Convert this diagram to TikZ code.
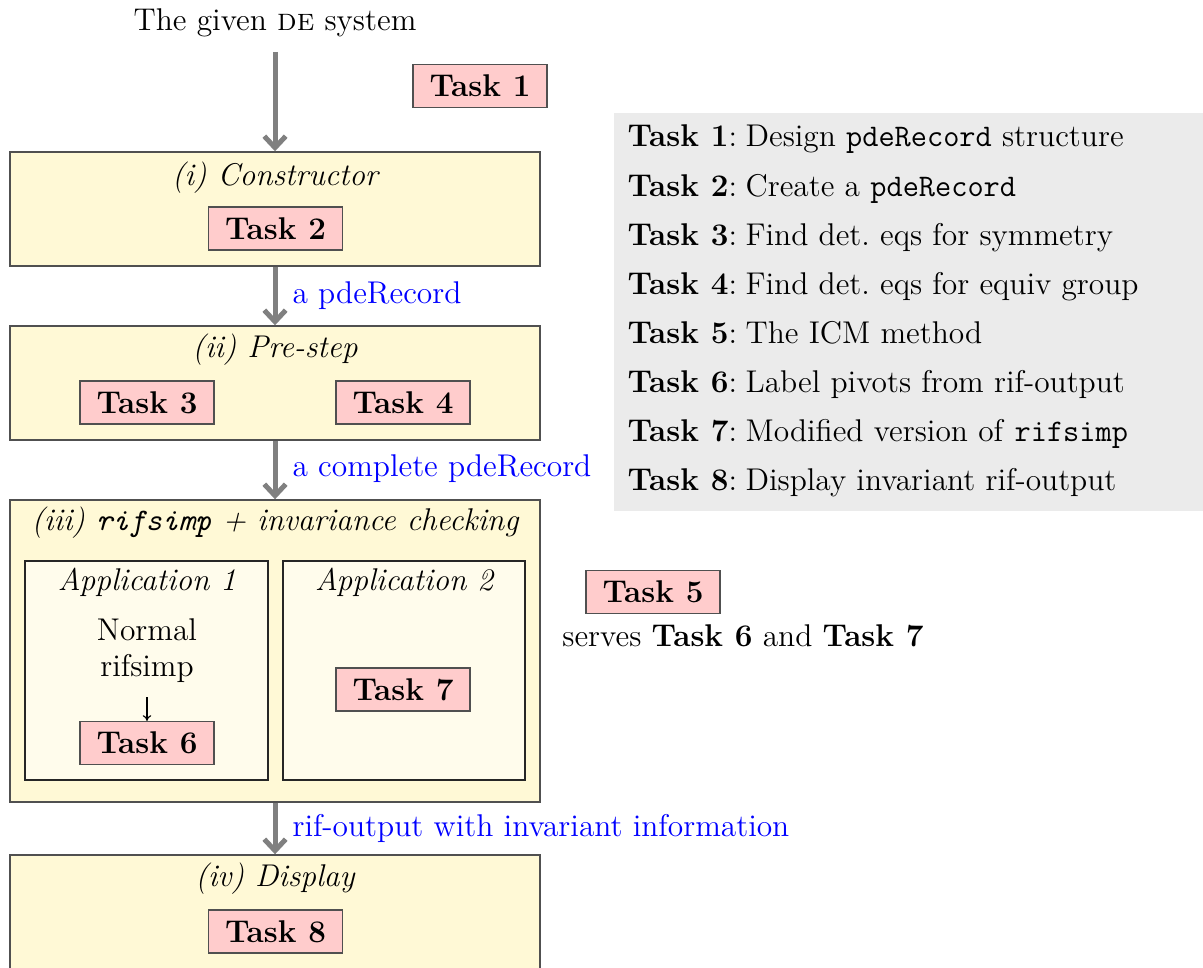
\documentclass[tikz,border=0pt]{standalone}
\usetikzlibrary{arrows.meta,fit}
\definecolor{stagefill}{RGB}{255,249,214}
\definecolor{appfill}{RGB}{255,252,236}
\definecolor{taskfill}{RGB}{255,204,204}
\definecolor{legendfill}{RGB}{235,235,235}
\definecolor{edgegray}{RGB}{80,80,80}
\definecolor{flowgray}{RGB}{128,128,128}
\begin{document}
\begin{tikzpicture}[x=0.35pt,y=-0.35pt,
  every node/.style={font=\fontsize{11}{13.2}\selectfont},
  stage/.style={draw=edgegray, line width=0.5pt, fill=stagefill, inner sep=0pt},
  app/.style={draw=black!85, line width=0.5pt, fill=appfill, inner sep=0pt},
  task/.style={draw=edgegray, line width=0.5pt, fill=taskfill,
               font=\fontsize{11}{13.2}\selectfont\bfseries,
               minimum width=47pt, minimum height=15pt, inner sep=0pt},
  flow/.style={draw=flowgray, line width=1.75pt, -{Straight Barb[length=4pt,width=7.5pt]}},
  txt/.style={inner sep=0pt, anchor=base},
  note/.style={inner sep=0pt, anchor=base west, text=blue},
  leg/.style={inner sep=0pt, anchor=base west},
]
\useasboundingbox (0,0) rectangle (1203,967);

% stage boxes
\node[stage, fit={(10,152) (540,266)}] (s1) {};
\node[stage, fit={(10,326) (540,440)}] (s2) {};
\node[stage, fit={(10,500) (540,802)}] (s3) {};
\node[stage, fit={(10,855) (540,990)}] (s4) {};
\node[app, fit={(25,561) (268,780)}] (app1) {};
\node[app, fit={(283,561) (525,780)}] (app2) {};

% legend panel
\node[fill=legendfill, inner sep=0pt, fit={(614,113) (1203,511)}] (legend) {};

% input
\node[txt] (given) at (275,31) {The given \textsc{de} system};
\coordinate (src) at (275,52);
\node[task] (t1) at (480,86) {Task 1};

% stage (i)
\node[txt] (h1) at (275,185) {\itshape (i) Constructor};
\node[task] (t2) at (275.5,228.5) {Task 2};

% stage (ii)
\node[txt] (h2) at (275,357) {\itshape (ii) Pre-step};
\node[task] (t3) at (147,402.5) {Task 3};
\node[task] (t4) at (403,402.5) {Task 4};

% stage (iii)
\node[txt] (h3) at (275,530) {\itshape (iii) {\ttfamily rifsimp} + invariance checking};
\node[txt] (ap1) at (147,590) {\itshape Application 1};
\node[txt] (ap2) at (404,590) {\itshape Application 2};
\node[txt] (normal) at (147,640) {Normal};
\node[txt] (rif) at (147,676) {rifsimp};
\coordinate (a6) at (147,697);
\node[task] (t6) at (147,743) {Task 6};
\node[task] (t7) at (403,689.5) {Task 7};

% stage (iv)
\node[txt] (h4) at (275,886) {\itshape (iv) Display};
\node[task] (t8) at (275.5,931.5) {Task 8};

% task 5
\node[task] (t5) at (653,592) {Task 5};
\node[txt] (serves) at (743,646) {serves \textbf{Task 6} and \textbf{Task 7}};

% flow arrows and their labels
\draw[flow] (src) -- (s1.north);
\draw[flow] (s1) -- (s2);
\draw[flow] (s2) -- (s3);
\draw[flow] (s3) -- (s4);
\draw[-{To[length=2pt,width=3pt]}, line width=0.4pt] (a6) -- (t6.north);
\node[note] (l1) at (292,303) {a pdeRecord};
\node[note] (l2) at (292,476) {a complete pdeRecord};
\node[note] (l3) at (292,836) {rif-output with invariant information};

% legend entries
\foreach \i/\y/\d in {
  1/147/{Design \texttt{pdeRecord} structure},
  2/196/{Create a \texttt{pdeRecord}},
  3/245/{Find det.\ eqs for symmetry},
  4/294/{Find det.\ eqs for equiv group},
  5/343/{The ICM method},
  6/392/{Label pivots from rif-output},
  7/441/{Modified version of \texttt{rifsimp}},
  8/490/{Display invariant rif-output}}{
  \node[leg] (k\i) at (627,\y) {\textbf{Task \i}:};
  \node[leg] (d\i) at (745,\y) {\d};
}
\end{tikzpicture}
\end{document}
